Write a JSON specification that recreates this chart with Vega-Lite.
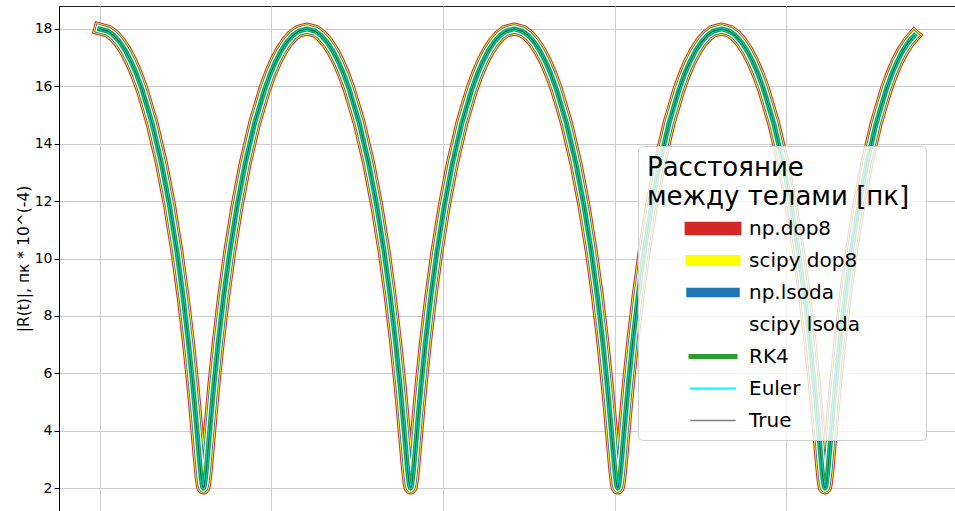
{
  "$schema": "https://vega.github.io/schema/vega-lite/v6.json",
  "autosize": {"type": "none"},
  "padding": {"left": 59, "top": 6, "right": 0, "bottom": 0},
  "width": 896,
  "height": 505,
  "background": "white",
  "config": {
    "font": "DejaVu Sans",
    "view": {"stroke": "#222222", "strokeWidth": 1}
  },
  "data": {
    "values": [
      {"t": 0, "r": 18}, {"t": 0.0405, "r": 17.92}, {"t": 0.0689, "r": 17.768}, {"t": 0.097, "r": 17.538}, {"t": 0.1247, "r": 17.233}, {"t": 0.1518, "r": 16.855}, {"t": 0.1783, "r": 16.409}, {"t": 0.204, "r": 15.899}, {"t": 0.2528, "r": 14.708}, {"t": 0.2975, "r": 13.329}, {"t": 0.3375, "r": 11.818}, {"t": 0.3726, "r": 10.234}, {"t": 0.4027, "r": 8.64}, {"t": 0.4277, "r": 7.101}, {"t": 0.448, "r": 5.678}, {"t": 0.4565, "r": 5.027}, {"t": 0.464, "r": 4.426}, {"t": 0.4706, "r": 3.881}, {"t": 0.4764, "r": 3.397}, {"t": 0.4815, "r": 2.979}, {"t": 0.4859, "r": 2.632}, {"t": 0.4899, "r": 2.357}, {"t": 0.4935, "r": 2.159}, {"t": 0.4968, "r": 2.04}, {"t": 0.5, "r": 2}, {"t": 0.5032, "r": 2.04}, {"t": 0.5065, "r": 2.159}, {"t": 0.5101, "r": 2.357}, {"t": 0.5141, "r": 2.632}, {"t": 0.5185, "r": 2.979}, {"t": 0.5236, "r": 3.397}, {"t": 0.5294, "r": 3.881}, {"t": 0.536, "r": 4.426}, {"t": 0.5435, "r": 5.027}, {"t": 0.552, "r": 5.678}, {"t": 0.5723, "r": 7.101}, {"t": 0.5973, "r": 8.64}, {"t": 0.6274, "r": 10.234}, {"t": 0.6625, "r": 11.818}, {"t": 0.7025, "r": 13.329}, {"t": 0.7472, "r": 14.708}, {"t": 0.796, "r": 15.899}, {"t": 0.8217, "r": 16.409}, {"t": 0.8482, "r": 16.855}, {"t": 0.8753, "r": 17.233}, {"t": 0.903, "r": 17.538}, {"t": 0.9311, "r": 17.768}, {"t": 0.9595, "r": 17.92},
      {"t": 1, "r": 18}, {"t": 1.0405, "r": 17.92}, {"t": 1.0689, "r": 17.768}, {"t": 1.097, "r": 17.538}, {"t": 1.1247, "r": 17.233}, {"t": 1.1518, "r": 16.855}, {"t": 1.1783, "r": 16.409}, {"t": 1.204, "r": 15.899}, {"t": 1.2528, "r": 14.708}, {"t": 1.2975, "r": 13.329}, {"t": 1.3375, "r": 11.818}, {"t": 1.3726, "r": 10.234}, {"t": 1.4027, "r": 8.64}, {"t": 1.4277, "r": 7.101}, {"t": 1.448, "r": 5.678}, {"t": 1.4565, "r": 5.027}, {"t": 1.464, "r": 4.426}, {"t": 1.4706, "r": 3.881}, {"t": 1.4764, "r": 3.397}, {"t": 1.4815, "r": 2.979}, {"t": 1.4859, "r": 2.632}, {"t": 1.4899, "r": 2.357}, {"t": 1.4935, "r": 2.159}, {"t": 1.4968, "r": 2.04}, {"t": 1.5, "r": 2}, {"t": 1.5032, "r": 2.04}, {"t": 1.5065, "r": 2.159}, {"t": 1.5101, "r": 2.357}, {"t": 1.5141, "r": 2.632}, {"t": 1.5185, "r": 2.979}, {"t": 1.5236, "r": 3.397}, {"t": 1.5294, "r": 3.881}, {"t": 1.536, "r": 4.426}, {"t": 1.5435, "r": 5.027}, {"t": 1.552, "r": 5.678}, {"t": 1.5723, "r": 7.101}, {"t": 1.5973, "r": 8.64}, {"t": 1.6274, "r": 10.234}, {"t": 1.6625, "r": 11.818}, {"t": 1.7025, "r": 13.329}, {"t": 1.7472, "r": 14.708}, {"t": 1.796, "r": 15.899}, {"t": 1.8217, "r": 16.409}, {"t": 1.8482, "r": 16.855}, {"t": 1.8753, "r": 17.233}, {"t": 1.903, "r": 17.538}, {"t": 1.9311, "r": 17.768}, {"t": 1.9595, "r": 17.92},
      {"t": 2, "r": 18}, {"t": 2.0405, "r": 17.92}, {"t": 2.0689, "r": 17.768}, {"t": 2.097, "r": 17.538}, {"t": 2.1247, "r": 17.233}, {"t": 2.1518, "r": 16.855}, {"t": 2.1783, "r": 16.409}, {"t": 2.204, "r": 15.899}, {"t": 2.2528, "r": 14.708}, {"t": 2.2975, "r": 13.329}, {"t": 2.3375, "r": 11.818}, {"t": 2.3726, "r": 10.234}, {"t": 2.4027, "r": 8.64}, {"t": 2.4277, "r": 7.101}, {"t": 2.448, "r": 5.678}, {"t": 2.4565, "r": 5.027}, {"t": 2.464, "r": 4.426}, {"t": 2.4706, "r": 3.881}, {"t": 2.4764, "r": 3.397}, {"t": 2.4815, "r": 2.979}, {"t": 2.4859, "r": 2.632}, {"t": 2.4899, "r": 2.357}, {"t": 2.4935, "r": 2.159}, {"t": 2.4968, "r": 2.04}, {"t": 2.5, "r": 2}, {"t": 2.5032, "r": 2.04}, {"t": 2.5065, "r": 2.159}, {"t": 2.5101, "r": 2.357}, {"t": 2.5141, "r": 2.632}, {"t": 2.5185, "r": 2.979}, {"t": 2.5236, "r": 3.397}, {"t": 2.5294, "r": 3.881}, {"t": 2.536, "r": 4.426}, {"t": 2.5435, "r": 5.027}, {"t": 2.552, "r": 5.678}, {"t": 2.5723, "r": 7.101}, {"t": 2.5973, "r": 8.64}, {"t": 2.6274, "r": 10.234}, {"t": 2.6625, "r": 11.818}, {"t": 2.7025, "r": 13.329}, {"t": 2.7472, "r": 14.708}, {"t": 2.796, "r": 15.899}, {"t": 2.8217, "r": 16.409}, {"t": 2.8482, "r": 16.855}, {"t": 2.8753, "r": 17.233}, {"t": 2.903, "r": 17.538}, {"t": 2.9311, "r": 17.768}, {"t": 2.9595, "r": 17.92},
      {"t": 3, "r": 18}, {"t": 3.0405, "r": 17.92}, {"t": 3.0689, "r": 17.768}, {"t": 3.097, "r": 17.538}, {"t": 3.1247, "r": 17.233}, {"t": 3.1518, "r": 16.855}, {"t": 3.1783, "r": 16.409}, {"t": 3.204, "r": 15.899}, {"t": 3.2528, "r": 14.708}, {"t": 3.2975, "r": 13.329}, {"t": 3.3375, "r": 11.818}, {"t": 3.3726, "r": 10.234}, {"t": 3.4027, "r": 8.64}, {"t": 3.4277, "r": 7.101}, {"t": 3.448, "r": 5.678}, {"t": 3.4565, "r": 5.027}, {"t": 3.464, "r": 4.426}, {"t": 3.4706, "r": 3.881}, {"t": 3.4764, "r": 3.397}, {"t": 3.4815, "r": 2.979}, {"t": 3.4859, "r": 2.632}, {"t": 3.4899, "r": 2.357}, {"t": 3.4935, "r": 2.159}, {"t": 3.4968, "r": 2.04}, {"t": 3.5, "r": 2}, {"t": 3.5032, "r": 2.04}, {"t": 3.5065, "r": 2.159}, {"t": 3.5101, "r": 2.357}, {"t": 3.5141, "r": 2.632}, {"t": 3.5185, "r": 2.979}, {"t": 3.5236, "r": 3.397}, {"t": 3.5294, "r": 3.881}, {"t": 3.536, "r": 4.426}, {"t": 3.5435, "r": 5.027}, {"t": 3.552, "r": 5.678}, {"t": 3.5723, "r": 7.101}, {"t": 3.5973, "r": 8.64}, {"t": 3.6274, "r": 10.234}, {"t": 3.6625, "r": 11.818}, {"t": 3.7025, "r": 13.329}, {"t": 3.7472, "r": 14.708}, {"t": 3.796, "r": 15.899}, {"t": 3.8217, "r": 16.409}, {"t": 3.8482, "r": 16.855}, {"t": 3.8753, "r": 17.233}, {"t": 3.903, "r": 17.538}, {"t": 3.9311, "r": 17.768}
    ]
  },
  "encoding": {
    "x": {
      "field": "t", "type": "quantitative",
      "scale": {"domain": [-0.1966, 4.1276], "nice": false, "zero": false},
      "axis": {"title": null, "labels": false, "ticks": false, "domain": false, "grid": true, "values": [0, 0.8285, 1.657, 2.4855, 3.314], "gridColor": "#cccccc", "gridWidth": 1}
    },
    "y": {
      "field": "r", "type": "quantitative",
      "scale": {"domain": [1.2, 18.8], "nice": false, "zero": false},
      "axis": {"title": "|R(t)|, пк * 10^(-4)", "titleFontSize": 15.5, "titleFontWeight": "normal", "titleColor": "black", "titlePadding": 3,
        "values": [2, 4, 6, 8, 10, 12, 14, 16, 18], "labelFontSize": 14, "labelColor": "black", "labelPadding": 2,
        "tickSize": 5, "tickColor": "black", "domainColor": "black", "grid": true, "gridColor": "#cccccc", "gridWidth": 1}
    }
  },
  "layer": [
    {
      "mark": {"type": "line", "strokeWidth": 13, "strokeCap": "square", "strokeJoin": "round"},
      "encoding": {
        "color": {
          "datum": "np.dop8", "type": "nominal",
          "scale": {
            "domain": ["np.dop8", "scipy dop8", "np.lsoda", "scipy lsoda", "RK4", "Euler", "True"],
            "range": ["#d62728", "#ffff00", "#1f77b4", "#ffffff", "#2ca02c", "#00ffff", "#808080"]
          },
          "legend": {
            "orient": "none", "legendX": 579, "legendY": 140,
            "title": ["Расстояние", "между телами [пк]"],
            "titleFontSize": 26, "titleFontWeight": "normal", "titleColor": "black", "titleLineHeight": 28.5, "titlePadding": 9, "titleLimit": 400,
            "labelFontSize": 20, "labelColor": "black", "labelOffset": 26, "labelLimit": 300,
            "symbolType": "stroke", "symbolSize": 4, "symbolOffset": 56,
            "rowPadding": 12,
            "padding": 9,
            "fillColor": "rgba(255,255,255,0.8)", "strokeColor": "#d0d0d0", "cornerRadius": 4,
            "encode": {
              "symbols": {
                "update": {
                  "shape": {"signal": "datum.value === 'np.dop8' ? 'M-28.4,-6.65H28.4V6.65H-28.4Z' : datum.value === 'scipy dop8' ? 'M-27.5,-5.5H27.5V5.5H-27.5Z' : datum.value === 'np.lsoda' ? 'M-26.75,-4.75H26.75V4.75H-26.75Z' : datum.value === 'scipy lsoda' ? 'M-25.75,-3.75H25.75V3.75H-25.75Z M203,-0.1H204V0.1H203Z' : datum.value === 'RK4' ? 'M-24.5,-2.5H24.5V2.5H-24.5Z' : datum.value === 'Euler' ? 'M-23,-1H23V1H-23Z' : 'M-22.75,-0.75H22.75V0.75H-22.75Z'"},
                  "fill": {"scale": "color", "field": "value"},
                  "fillOpacity": {"value": 1},
                  "strokeWidth": {"value": 0},
                  "opacity": {"value": 1}
                }
              }
            }
          }
        }
      }
    },
    {
      "mark": {"type": "line", "strokeWidth": 11, "strokeCap": "square", "strokeJoin": "round"},
      "encoding": {"color": {"datum": "scipy dop8", "type": "nominal"}}
    },
    {
      "mark": {"type": "line", "strokeWidth": 9.3, "strokeCap": "square", "strokeJoin": "round"},
      "encoding": {"color": {"datum": "np.lsoda", "type": "nominal"}}
    },
    {
      "mark": {"type": "line", "strokeWidth": 7.5, "strokeCap": "square", "strokeJoin": "round"},
      "encoding": {"color": {"datum": "scipy lsoda", "type": "nominal"}}
    },
    {
      "mark": {"type": "line", "strokeWidth": 5, "strokeCap": "square", "strokeJoin": "round"},
      "encoding": {"color": {"datum": "RK4", "type": "nominal"}}
    },
    {
      "mark": {"type": "line", "strokeWidth": 2.3, "strokeCap": "square", "strokeJoin": "round"},
      "encoding": {"color": {"datum": "Euler", "type": "nominal"}}
    },
    {
      "mark": {"type": "line", "strokeWidth": 1.3, "strokeCap": "square", "strokeJoin": "round", "stroke": "black", "strokeOpacity": 0.6},
      "encoding": {}
    }
  ]
}
